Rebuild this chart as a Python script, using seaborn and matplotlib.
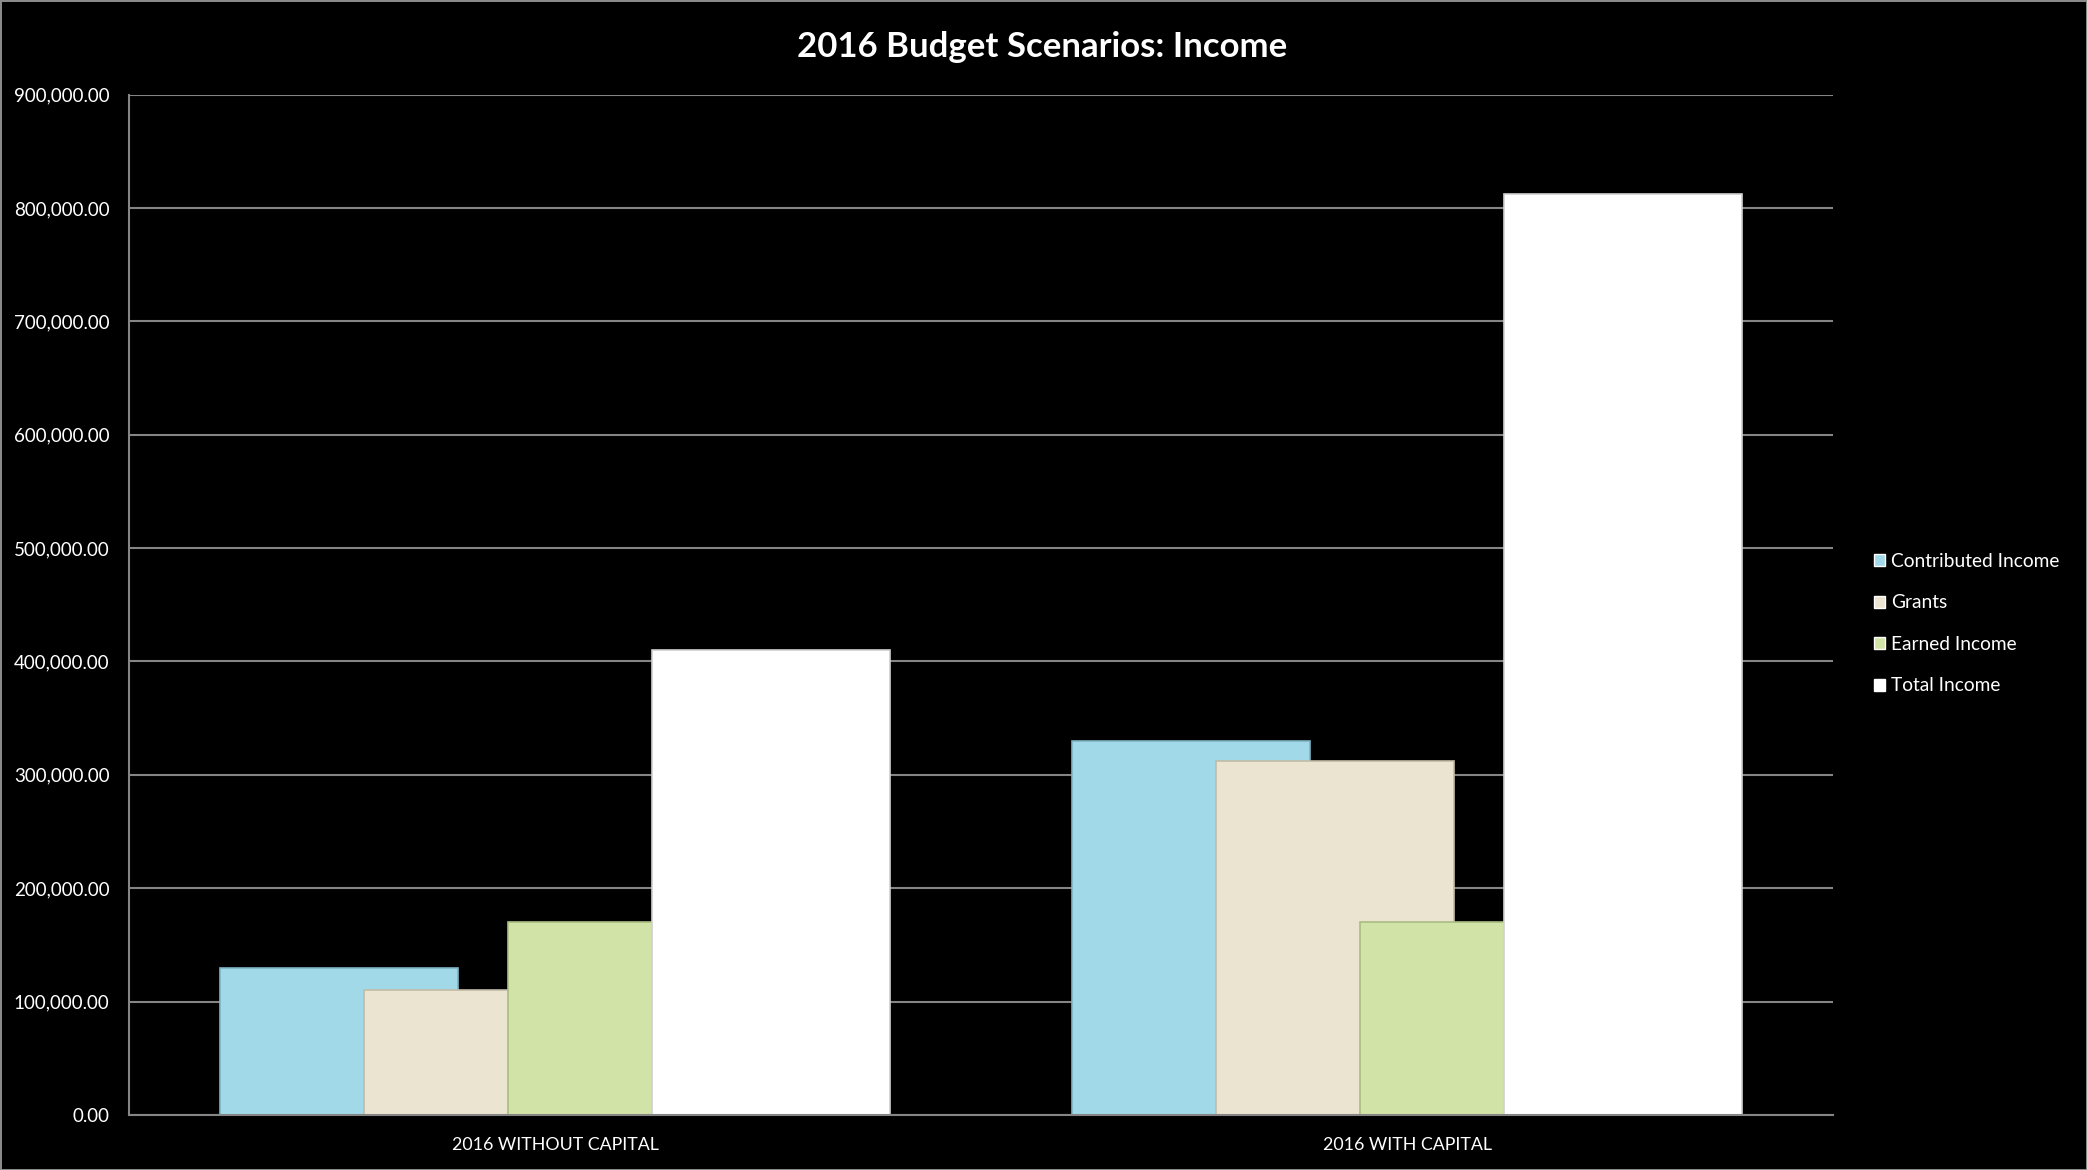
import numpy as np
import pandas as pd
import matplotlib
matplotlib.use("Agg")
import matplotlib.pyplot as plt
import seaborn as sns

# Datos
escenarios = ["2016 WITHOUT CAPITAL", "2016 WITH CAPITAL"]
series = ["Contributed Income", "Grants", "Earned Income", "Total Income"]
contributed = [130000, 330000]
grants = [110000, 312000]
earned = [170000, 170000]
total = [410000, 812000]
colores = ["#A1D9E9", "#EAE4D0", "#D2E3A7", "#FFFFFF"]
bordes = ["#7FB3C4", "#C2BBA6", "#A9BC82", "#D0D0D0"]

valores = [contributed, grants, earned, total]

# Barras solapadas al estilo Excel (overlap ~40%)
paso = 0.169
offsets = (np.arange(len(series)) - 1.5) * paso
filas = []
for i, s in enumerate(series):
    for j, esc in enumerate(escenarios):
        filas.append({"xpos": j + offsets[i], "valor": valores[i][j], "serie": s})
df = pd.DataFrame(filas)

sns.set_style("dark")
plt.rcParams["font.family"] = ["Lato", "DejaVu Sans"]

fig = plt.figure(figsize=(20.87, 11.70), dpi=100, facecolor="black",
                 edgecolor="#8a8a8a", linewidth=2)
ax = fig.add_axes([0.0618, 0.047, 0.8165, 0.8722])
ax.set_facecolor("black")

sns.barplot(data=df, x="xpos", y="valor", hue="serie", hue_order=series,
            palette=colores, native_scale=True, dodge=False, width=1.65,
            saturation=1, ax=ax, errorbar=None, legend=True)

for k, patch in enumerate(ax.patches):
    idx = k // len(escenarios)
    if idx < len(bordes):
        patch.set_edgecolor(bordes[idx])
        patch.set_linewidth(1.2)

ax.set_xlim(-0.5, 1.5)
ax.set_ylim(0, 900000)
ax.set_xticks(range(len(escenarios)))
ax.set_xticklabels(escenarios)
ax.set_yticks(np.arange(0, 900001, 100000))
ax.yaxis.set_major_formatter(plt.FuncFormatter(lambda v, p: "{:,.2f}".format(v)))
ax.tick_params(axis="both", length=0, colors="white")
ax.tick_params(axis="y", pad=14, labelsize=13.5)
ax.tick_params(axis="x", pad=16, labelsize=12.8)
ax.set_xlabel("")
ax.set_ylabel("")

ax.grid(axis="y", color="#858585", linewidth=1.5)
ax.grid(axis="x", visible=False)
ax.set_axisbelow(True)
for lado in ["top", "right"]:
    ax.spines[lado].set_visible(False)
for lado in ["left", "bottom"]:
    ax.spines[lado].set_visible(True)
    ax.spines[lado].set_color("#858585")
    ax.spines[lado].set_linewidth(1.5)

fig.text(0.4995, 0.960, "2016 Budget Scenarios: Income", color="white",
         fontsize=25, fontweight="bold", ha="center", va="center")

leg = ax.legend(loc="center left", bbox_to_anchor=(0.8895, 0.467),
                bbox_transform=fig.transFigure, frameon=False,
                fontsize=13.8, labelcolor="white", handlelength=0.6,
                handleheight=0.6, handletextpad=0.3, labelspacing=1.28,
                title=None)

plt.savefig("out.png", dpi=100, facecolor=fig.get_facecolor(),
            edgecolor=fig.get_edgecolor())
